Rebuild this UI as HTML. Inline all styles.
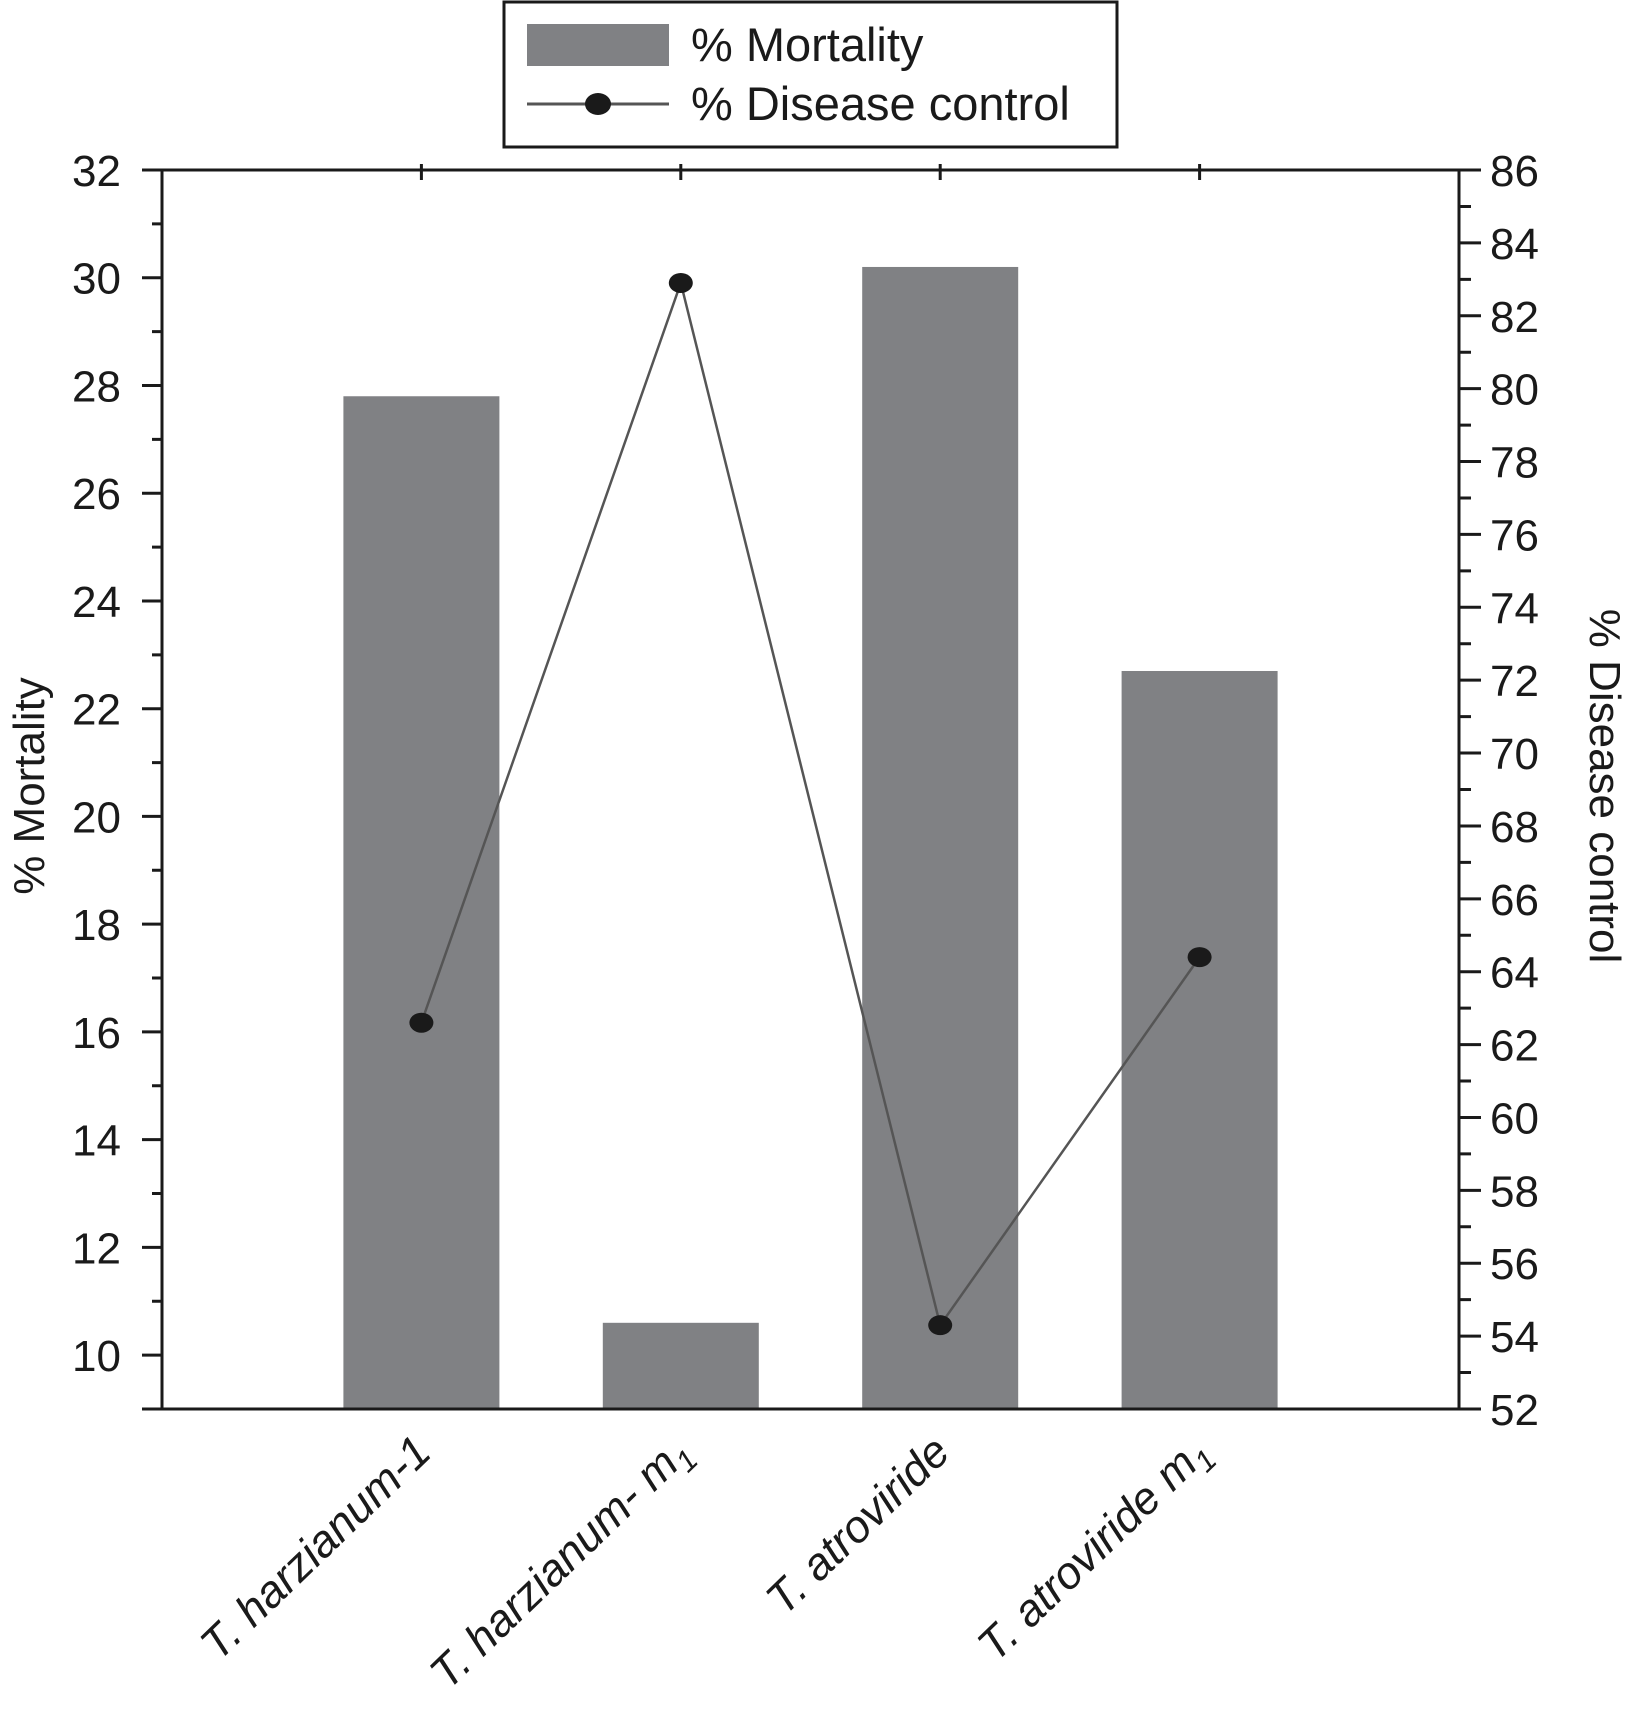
<!DOCTYPE html>
<html><head><meta charset="utf-8"><style>body{margin:0;background:#fff}svg{display:block}text{font-family:"Liberation Sans",sans-serif;fill:#1a1a1a}</style></head>
<body>
<svg id="chart" width="1629" height="1727" xmlns="http://www.w3.org/2000/svg">
<g>
<rect x="504" y="2" width="613" height="145" fill="#fff" stroke="#1a1a1a" stroke-width="3"/>
<rect x="527" y="24" width="142" height="42" fill="#808184"/>
<text x="691" y="61" font-size="47">% Mortality</text>
<line x1="527" y1="104" x2="669" y2="104" stroke="#555" stroke-width="3"/>
<ellipse cx="598" cy="104" rx="13" ry="11" fill="#1a1a1a"/>
<text x="691" y="120" font-size="47">% Disease control</text>
</g>
<g id="plot"></g>
</svg>
<script>
const categories=["T. harzianum-1","T. harzianum- m","T. atroviride","T. atroviride m"];
const mortality=[27.8,10.6,30.2,22.7];
const diseaseControl=[62.6,82.9,54.3,64.4];
const leftTicks=[10,12,14,16,18,20,22,24,26,28,30,32];
const rightTicks=[52,54,56,58,60,62,64,66,68,70,72,74,76,78,80,82,84,86];
const X0=162,X1=1459,Y0=170,Y1=1409;
const NS='http://www.w3.org/2000/svg';
const g=document.getElementById('plot');
function xs(i){return X0+(X1-X0)*(i+1)/5;}
function yl(v){return Y1-(v-9)/(32-9)*(Y1-Y0);}
function yr(v){return Y1-(v-52)/(86-52)*(Y1-Y0);}
function mk(t,a,p){const e=document.createElementNS(NS,t);for(const k in a)e.setAttribute(k,a[k]);(p||g).appendChild(e);return e;}
mortality.forEach((v,i)=>{const r=mk('rect',{x:xs(i)-78,y:yl(v),width:156,height:Y1-yl(v),fill:'#808184'});

});
const pts=diseaseControl.map((v,i)=>xs(i)+','+yr(v)).join(' ');
const pl=mk('polyline',{points:pts,fill:'none',stroke:'#555','stroke-width':2.5});


diseaseControl.forEach((v,i)=>{const c=mk('ellipse',{cx:xs(i),cy:yr(v),rx:12,ry:10,fill:'#1a1a1a'});

});
const ax=mk('path',{d:`M${X0-20} ${Y0}H${X1}M${X0} ${Y0}V${Y1}M${X0-20} ${Y1}H${X1+22}M${X1} ${Y0}V${Y1}`,stroke:'#1a1a1a','stroke-width':3,fill:'none'});


let d='';
for(let v=9;v<=32;v++){const y=yl(v);d+=`M${X0} ${y}H${X0-(v%2==0?20:10)}`;}
for(let v=52;v<=86;v++){const y=yr(v);d+=`M${X1} ${y}H${X1+(v%2==0?22:12)}`;}
categories.forEach((c,i)=>{d+=`M${xs(i)} ${Y0-6}V${Y0+10}`;});
const tk=mk('path',{d:d,stroke:'#1a1a1a','stroke-width':3});


leftTicks.forEach(v=>{const t=mk('text',{x:121,y:yl(v)+16,'font-size':44,'text-anchor':'end'});t.textContent=v;

});
rightTicks.forEach(v=>{const t=mk('text',{x:1490,y:yr(v)+16,'font-size':44});t.textContent=v;

});
categories.forEach((c,i)=>{const x=xs(i)+12,y=1455;
const t=mk('text',{x:x,y:y,'font-size':45,'font-style':'italic','text-anchor':'end',transform:`rotate(-44 ${x} ${y})`});
t.textContent=c;
if(i%2==1){const s=mk('tspan',{'font-size':30,dy:10},t);s.textContent='1';}

});
const lt=mk('text',{x:0,y:0,'font-size':44,'text-anchor':'middle',transform:'translate(44 786) rotate(-90)'});lt.textContent='% Mortality';


const rt=mk('text',{x:0,y:0,'font-size':44,'text-anchor':'middle',transform:'translate(1590 786) rotate(90)'});rt.textContent='% Disease control';


</script>
</body></html>
